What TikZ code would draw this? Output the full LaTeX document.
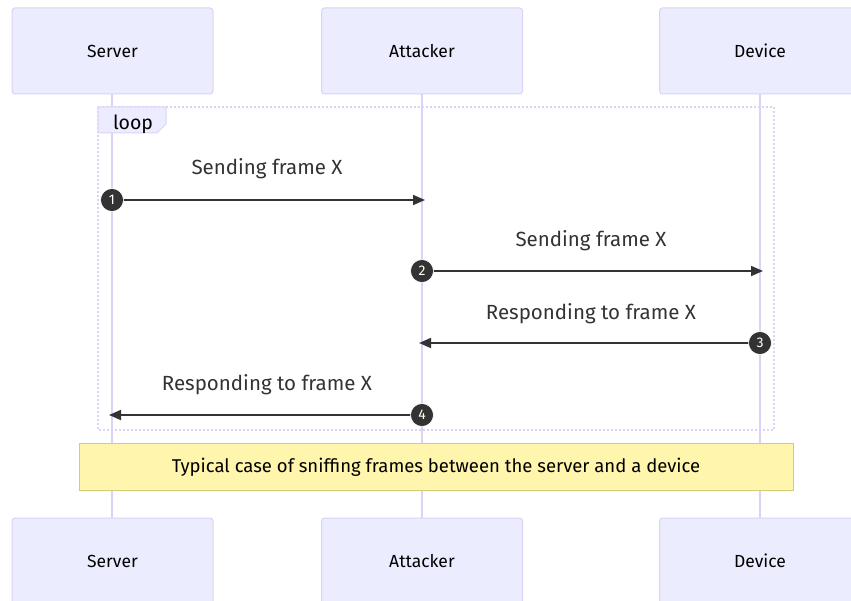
\documentclass[tikz,border=0pt]{standalone}
\usepackage{fontspec}
\setmainfont{Fira Sans}
\usetikzlibrary{arrows.meta}
\definecolor{actfill}{HTML}{ECECFF}
\definecolor{actline}{HTML}{DCD2F8}
\definecolor{notefill}{HTML}{FFF5AD}
\definecolor{noteline}{HTML}{CFCF7A}
\definecolor{ink}{HTML}{333333}
\tikzset{
  actor/.style={draw=actline, fill=actfill, line width=1pt, rounded corners=3pt, minimum width=201pt, minimum height=86pt, inner sep=0pt, font=\fontsize{17.5}{20}\selectfont, text=black},
  life/.style={draw=actline, line width=2pt},
  msg/.style={draw=ink, line width=1.8pt, -{Triangle[length=12pt,width=10pt]}},
  seqnum/.style={circle, fill=ink, draw=white, line width=0.6pt, minimum size=23pt, inner sep=0pt, text=white, font=\fontsize{14}{16}\selectfont},
  msglabel/.style={font=\fontsize{20.5}{24}\selectfont, text=ink, inner sep=0pt},
}
\begin{document}
\begin{tikzpicture}[x=1pt,y=-1pt]
\useasboundingbox (0,0) rectangle (851,601);
\fill[white] (0,0) rectangle (851,601);
% lifelines
\coordinate (sT) at (112,94); \coordinate (sB) at (112,518);
\coordinate (aT) at (422,94); \coordinate (aB) at (422,518);
\coordinate (dT) at (760,94); \coordinate (dB) at (760,518);
\draw[life] (sT) -- (sB);
\draw[life] (aT) -- (aB);
\draw[life] (dT) -- (dB);
% actors
\node[actor] (s1) at (112.5,51) {Server};
\node[actor] (a1) at (422,51) {Attacker};
\node[actor] (d1) at (760,51) {Device};
\node[actor] (s2) at (112.5,561) {Server};
\node[actor] (a2) at (422,561) {Attacker};
\node[actor] (d2) at (760,561) {Device};
% loop frame
\draw[actline, line width=2pt, dotted] (98,107) rectangle (774,430);
\draw[actline, fill=actfill, line width=1pt] (98,107) -- (166,107) -- (166,124) -- (157,133) -- (98,133) -- cycle;
\node[font=\fontsize{19.5}{22}\selectfont, text=black, inner sep=0pt] (looplbl) at (133,124) {loop};
% message endpoints
\coordinate (m1s) at (112,200); \coordinate (m1e) at (425,200);
\coordinate (m2s) at (422,271); \coordinate (m2e) at (763,271);
\coordinate (m3s) at (760,343); \coordinate (m3e) at (419,343);
\coordinate (m4s) at (422,415); \coordinate (m4e) at (109,415);
\draw[msg] (m1s) -- (m1e);
\draw[msg] (m2s) -- (m2e);
\draw[msg] (m3s) -- (m3e);
\draw[msg] (m4s) -- (m4e);
\node[seqnum] (n1) at (m1s) {1};
\node[seqnum] (n2) at (m2s) {2};
\node[seqnum] (n3) at (m3s) {3};
\node[seqnum] (n4) at (m4s) {4};
\node[msglabel] (l1) at (267,168.5) {Sending frame X};
\node[msglabel] (l2) at (591,240.5) {Sending frame X};
\node[msglabel] (l3) at (591,313.5) {Responding to frame X};
\node[msglabel] (l4) at (267,384.5) {Responding to frame X};
% note
\node[draw=noteline, fill=notefill, line width=1pt, minimum width=714pt, minimum height=47pt, inner sep=0pt, font=\fontsize{18.5}{21}\selectfont, text=black] (note) at (436,467) {Typical case of sniffing frames between the server and a device};
\end{tikzpicture}
\end{document}
